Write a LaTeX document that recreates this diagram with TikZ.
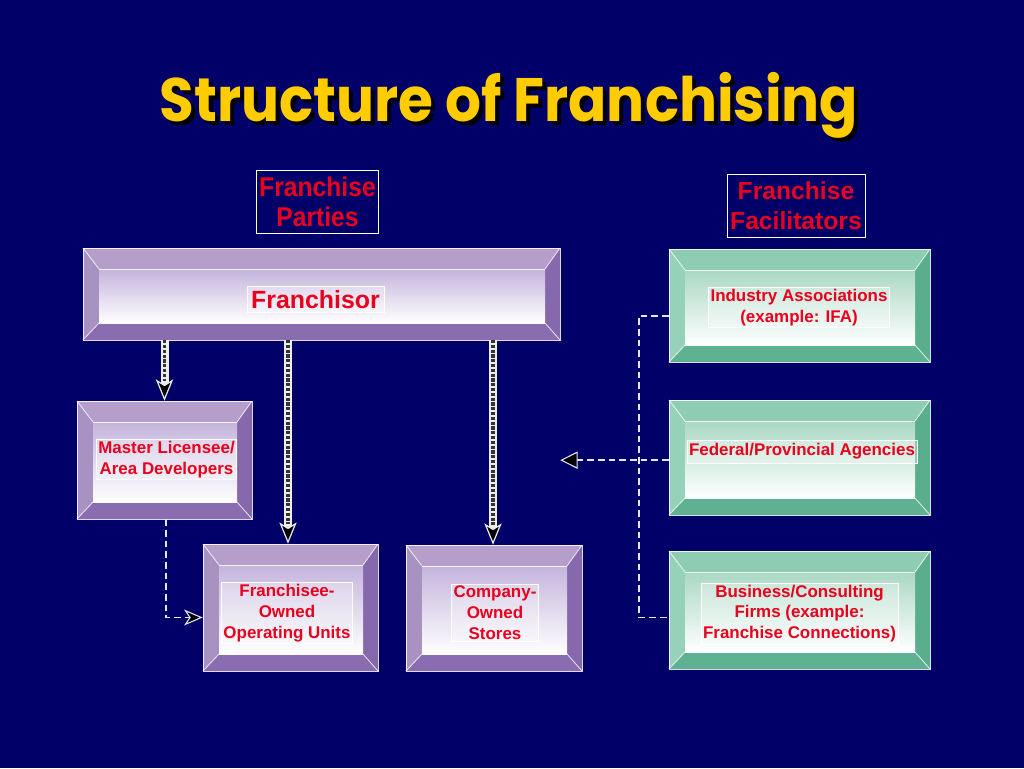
\documentclass[tikz,border=0pt]{standalone}
\usepackage{fontspec}
\setmainfont{Liberation Sans}
\newfontfamily\titlefont{Poppins}
\usetikzlibrary{arrows.meta,fit,calc}
\definecolor{navy}{RGB}{0,0,104}
\definecolor{titleyellow}{RGB}{255,204,0}
\definecolor{txtred}{RGB}{232,0,28}
\definecolor{ptop}{RGB}{182,158,202}
\definecolor{pleft}{RGB}{168,146,194}
\definecolor{pright}{RGB}{134,104,172}
\definecolor{pbot}{RGB}{138,108,176}
\definecolor{pface}{RGB}{196,180,220}
\definecolor{gtop}{RGB}{142,205,180}
\definecolor{gleft}{RGB}{150,210,186}
\definecolor{gright}{RGB}{90,174,142}
\definecolor{gbot}{RGB}{94,178,146}
\definecolor{gface}{RGB}{170,216,196}
\newcommand{\bevbox}[6]{%
  \fill[#6top] (#2,#3) -- (#4,#3) -- (#4-15,#3+21) -- (#2+16,#3+21) -- cycle;
  \fill[#6left] (#2,#3) -- (#2+16,#3+21) -- (#2+16,#5-17) -- (#2,#5) -- cycle;
  \fill[#6right] (#4,#3) -- (#4-15,#3+21) -- (#4-15,#5-17) -- (#4,#5) -- cycle;
  \fill[#6bot] (#2,#5) -- (#2+16,#5-17) -- (#4-15,#5-17) -- (#4,#5) -- cycle;
  \shade[top color=#6face, bottom color=white] (#2+16,#3+21) rectangle (#4-15,#5-17);
  \draw[bevline] (#2,#3) -- (#2+16,#3+21) (#4,#3) -- (#4-15,#3+21)
     (#2,#5) -- (#2+16,#5-17) (#4,#5) -- (#4-15,#5-17);
  \draw[bevline] (#2+16,#3+21) -- (#4-15,#3+21);
  \draw[bevline] (#2,#3) rectangle (#4,#5);
  \node[fit={(#2,#3) (#4,#5)}, inner sep=0pt] (#1) {};
}
\tikzset{
  bevline/.style={draw=white, line width=0.6pt, opacity=0.85},
  lbl/.style={draw=white, line width=0.4pt, fill=white, fill opacity=0.3, text opacity=1,
    text=txtred, font=\bfseries\fontsize{12.7}{15.5}\selectfont, align=center, inner sep=1.5pt},
  hdr/.style={draw=white, line width=0.5pt, text=txtred,
    font=\bfseries\fontsize{18.5}{22.5}\selectfont, align=center, inner sep=2pt},
  shaft/.style={draw=white!85!gray, line width=6pt,
    -{Stealth[length=16pt,width=13pt,inset=4pt,line width=0.9pt,fill=black]}},
  shaftin/.style={draw=black!80, line width=2.6pt, dash pattern=on 2.4pt off 1.2pt, shorten >=15pt},
  dconn/.style={draw=white!90!blue, line width=1.1pt, dash pattern=on 5pt off 3pt},
  dtip/.style={-{Stealth[length=14pt,width=12pt,inset=4pt,line width=0.8pt,fill=black]}},
  ttip/.style={-{Triangle[length=13pt,width=13pt,line width=0.8pt,fill=black]}}
}
\begin{document}
\begin{tikzpicture}[x=0.75pt,y=-0.75pt]
\fill[navy] (0,0) rectangle (1024,768);
\useasboundingbox (0,0) rectangle (1024,768);
% title
\node[text=black, font=\titlefont\bfseries\fontsize{46}{52}\selectfont, xscale=0.92]
  at (513,109) {Structure of Franchising};
\node[text=titleyellow, font=\titlefont\bfseries\fontsize{46}{52}\selectfont, xscale=0.92]
  (title) at (509,105) {Structure of Franchising};
% headers
\node[hdr, minimum width=91.5pt, minimum height=47pt] (hp) at (317.5,201.5) {\scalebox{1}[1.1]{Franchise}\\\scalebox{1}[1.1]{Parties}};
\node[hdr, minimum width=103.5pt, minimum height=47pt] (hf) at (796,205.5) {Franchise\\Facilitators};
% boxes
\bevbox{frn}{83}{248}{560}{340}{p}
\bevbox{mst}{77}{401}{252}{519}{p}
\bevbox{fro}{203}{544}{378}{671}{p}
\bevbox{cos}{406}{545}{582}{671}{p}
\bevbox{ind}{669}{249}{930}{362}{g}
\bevbox{fed}{669}{400}{930}{515}{g}
\bevbox{bus}{669}{551}{930}{669}{g}
% labels
\node[lbl, font=\bfseries\fontsize{18.7}{22}\selectfont, inner sep=3pt] (tfrn) at (315.5,299.5) {Franchisor};
\node[lbl] (tmst) at (166.5,459.5) {Master Licensee/\\Area Developers};
\node[lbl] (tfro) at (287,613) {Franchisee-\\Owned\\Operating Units};
\node[lbl, minimum width=64pt] (tcos) at (495,612.5) {Company-\\Owned\\Stores};
\node[lbl] (tind) at (799,307.5) {Industry Associations\\(example: IFA)};
\node[lbl, minimum width=171pt, minimum height=17pt] (tfed) at (802,451.5) {Federal/Provincial Agencies};
\node[lbl, minimum width=146pt] (tbus) at (799.5,613.5) {Business/Consulting\\Firms (example:\\Franchise Connections)};
% thick arrows
\draw[shaft] (mst.north |- frn.south) -- (mst.north);
\draw[shaftin] (mst.north |- frn.south) -- (mst.north);
\draw[shaft] (288,340) -- (fro.north -| 288,0);
\draw[shaftin] (288,340) -- (fro.north -| 288,0);
\draw[shaft] (493,340) -- (cos.north -| 493,0);
\draw[shaftin] (493,340) -- (cos.north -| 493,0);
% dashed connectors
\draw[dconn, dtip] (mst.south -| 166,0) |- ([yshift=-7.5pt]fro.west);
\draw[dconn] ([yshift=-8pt]ind.west) -| (639,460) |- ([yshift=-5.5pt]bus.west);
\draw[dconn, ttip] ([yshift=-2pt]fed.west) -- ([yshift=-2pt]fed.west -| frn.east);
\end{tikzpicture}
\end{document}
